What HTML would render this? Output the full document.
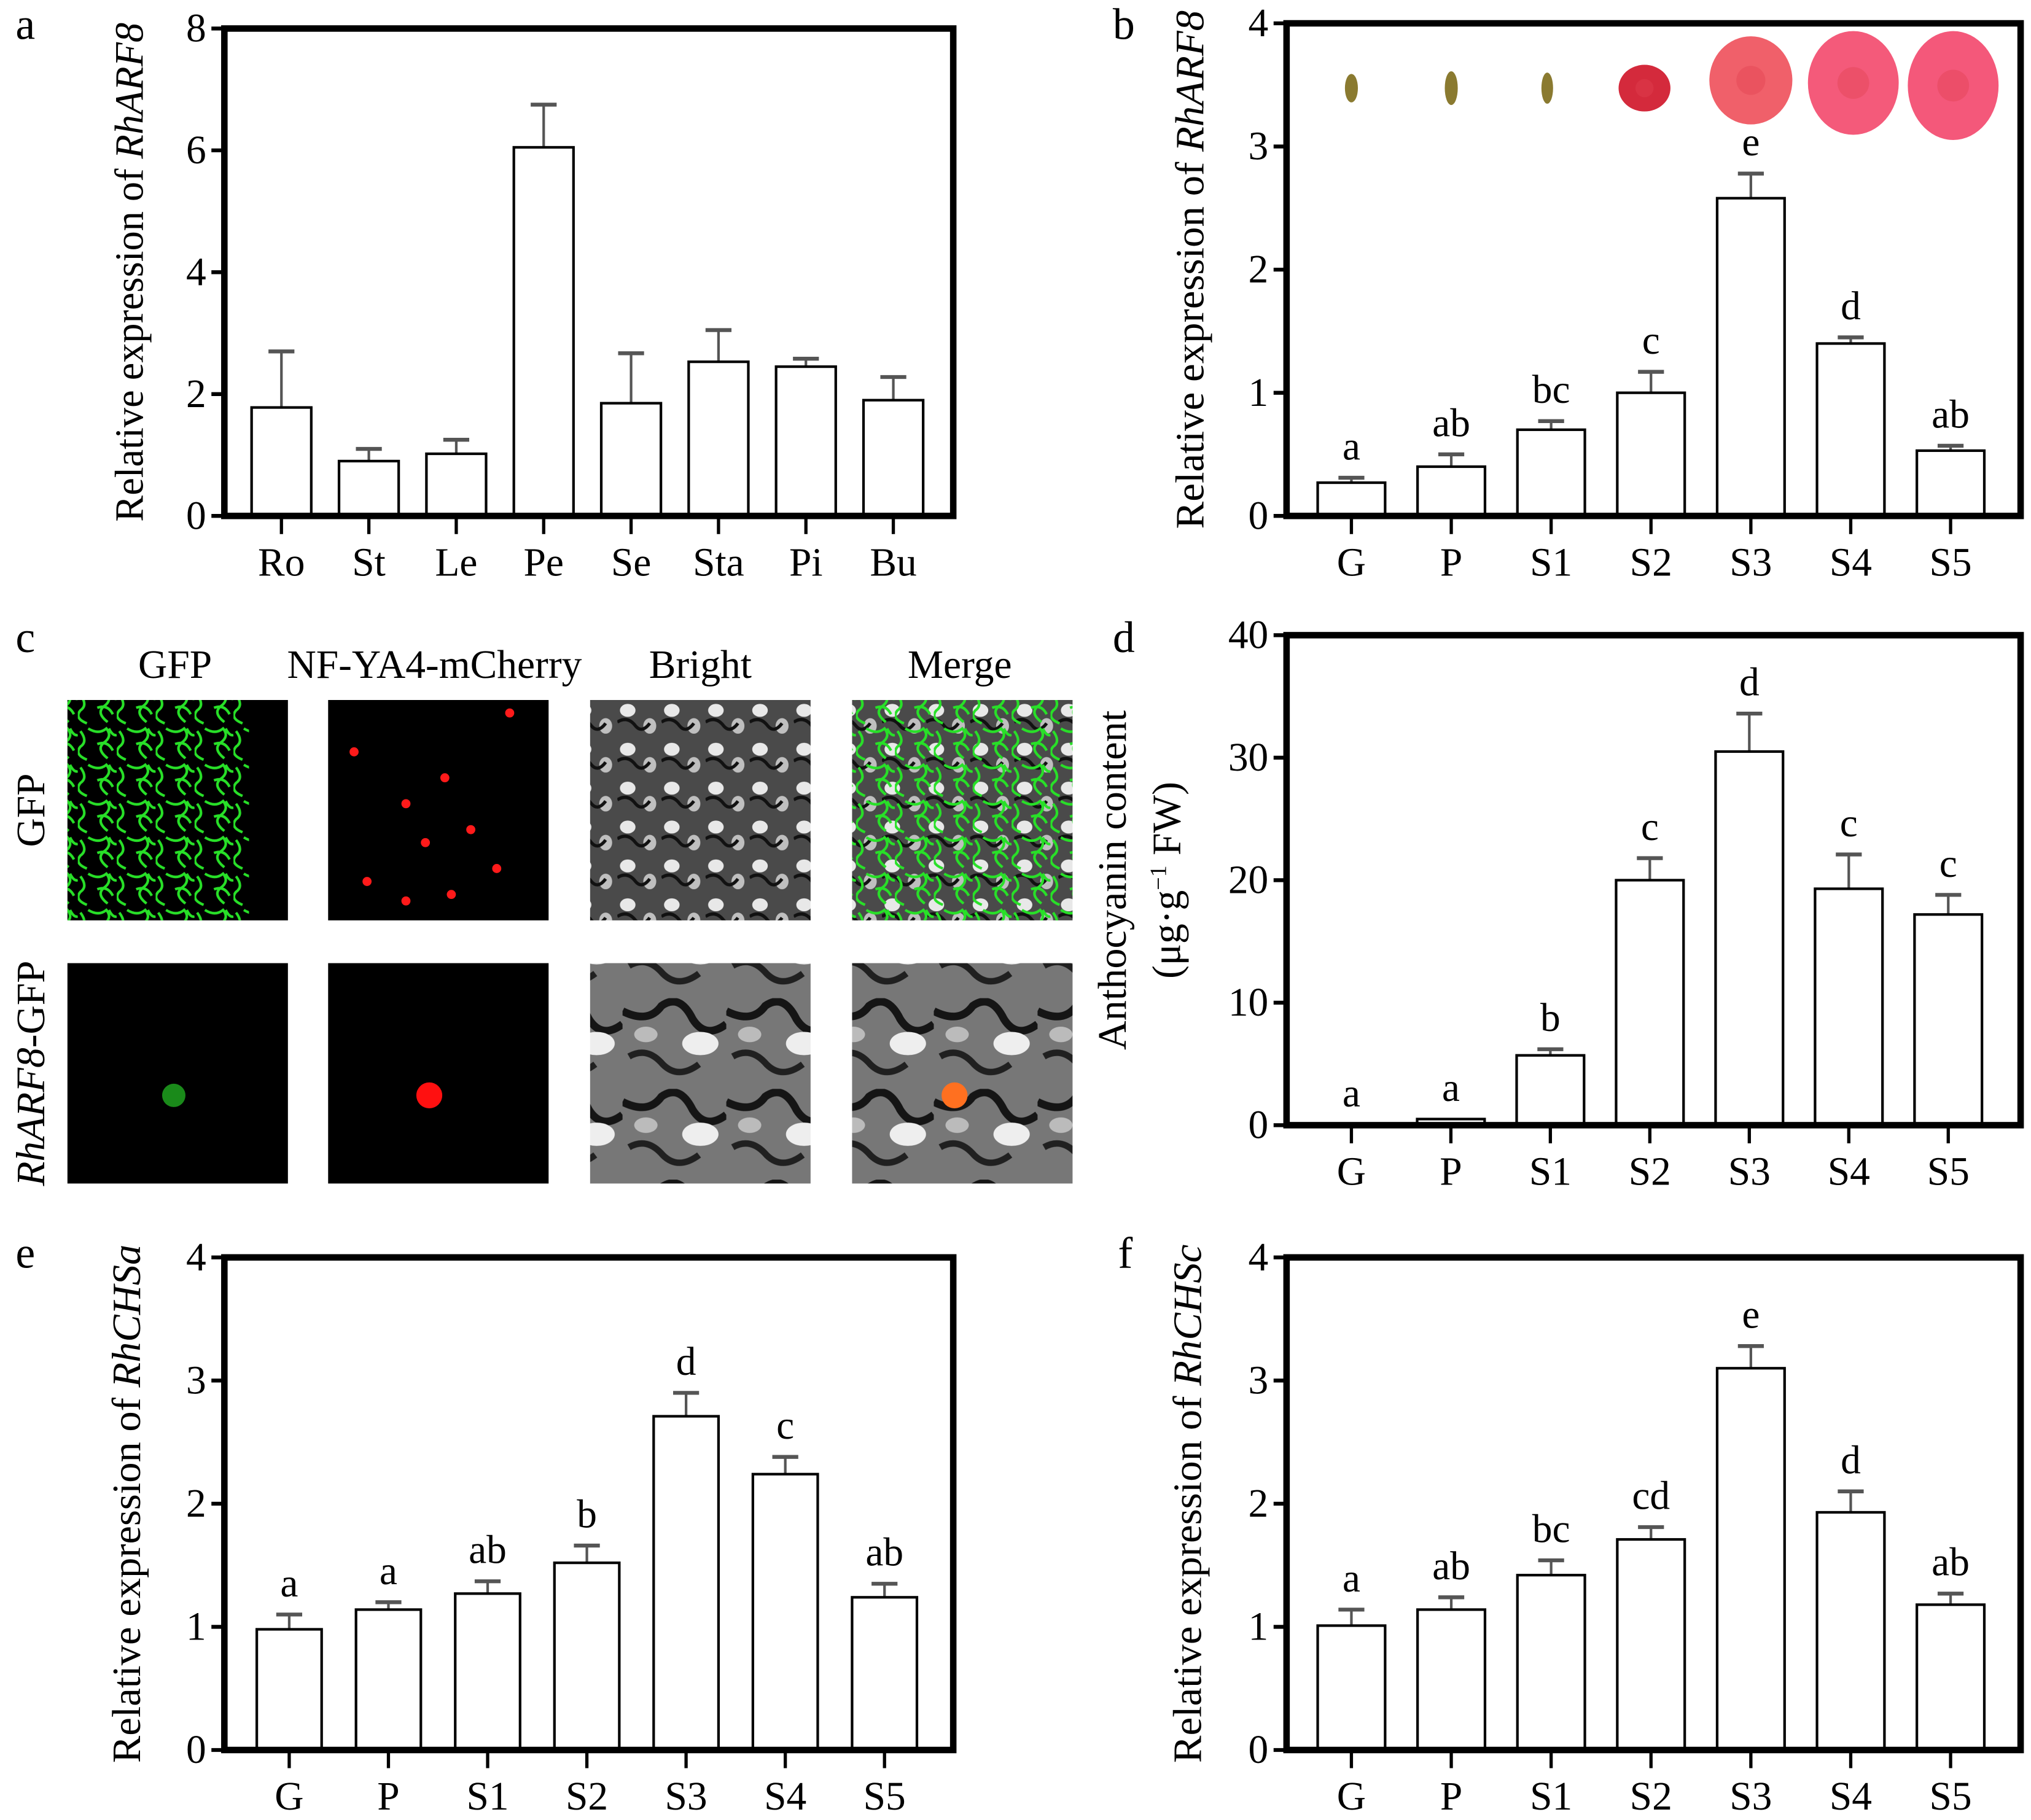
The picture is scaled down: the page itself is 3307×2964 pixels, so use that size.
<!DOCTYPE html>
<html><head><meta charset="utf-8"><style>
html,body{margin:0;padding:0;background:#fff}
svg{display:block}
text{font-family:"Liberation Serif",serif;fill:#000}
</style></head><body>
<svg id="fig" xmlns="http://www.w3.org/2000/svg" width="3307" height="2964" viewBox="0 0 1566 1404" preserveAspectRatio="none">
<defs>
<pattern id="gfpPat" width="30" height="28" patternUnits="userSpaceOnUse">
<path d="M2 4 q6 8 0 12 q-5 6 5 10 M8 2 q8 5 14 0 q5 6 -2 11 q-6 5 3 12 M15 14 q8 -3 12 5 M24 2 q3 6 6 5" fill="none" stroke="#28e028" stroke-width="2"/>
</pattern>
<pattern id="brightPat" width="34" height="30" patternUnits="userSpaceOnUse">
<rect width="34" height="30" fill="#4a4a4a"/>
<ellipse cx="8" cy="8" rx="6" ry="5" fill="#e8e8e8"/>
<ellipse cx="25" cy="20" rx="5" ry="6" fill="#bfbfbf"/>
<path d="M0 17 q8 -5 14 3 q5 6 11 -2" fill="none" stroke="#111" stroke-width="2.5"/>
</pattern>
<pattern id="brightPat2" width="80" height="70" patternUnits="userSpaceOnUse">
<rect width="80" height="70" fill="#777"/>
<path d="M0 10 q20 10 30 -4 q14 -10 24 10 q10 16 26 4" fill="none" stroke="#151515" stroke-width="6"/>
<path d="M5 45 q14 -8 26 6 q12 12 28 0" fill="none" stroke="#202020" stroke-width="5"/>
<ellipse cx="60" cy="35" rx="14" ry="9" fill="#eee"/>
<ellipse cx="18" cy="28" rx="9" ry="6" fill="#bbb"/>
</pattern>
</defs>
<g id="charts"></g>
<g id="micro"></g>
</svg>
<script>
// ---- data arrays ----
const catsA = ["Ro","St","Le","Pe","Se","Sta","Pi","Bu"];
const valsA = [1.78,0.9,1.02,6.05,1.85,2.53,2.45,1.9];
const errA  = [0.92,0.2,0.23,0.7,0.82,0.52,0.13,0.38];
const ticksA = ["0","2","4","6","8"];

const catsStage = ["G","P","S1","S2","S3","S4","S5"];
const valsB = [0.27,0.4,0.7,1.0,2.58,1.4,0.53];
const errB  = [0.04,0.1,0.07,0.17,0.2,0.05,0.04];
const letB  = ["a","ab","bc","c","e","d","ab"];
const ticksB = ["0","1","2","3","4"];

const valsD = [0.05,0.5,5.7,20,30.5,19.3,17.2];
const errD  = [0,0,0.5,1.8,3.1,2.8,1.6];
const letD  = ["a","a","b","c","d","c","c"];
const ticksD = ["0","10","20","30","40"];

const valsE = [0.98,1.14,1.27,1.52,2.71,2.24,1.24];
const errE  = [0.12,0.06,0.1,0.14,0.19,0.14,0.11];
const letE  = ["a","a","ab","b","d","c","ab"];

const valsF = [1.01,1.14,1.42,1.71,3.1,1.93,1.18];
const errF  = [0.13,0.1,0.12,0.1,0.18,0.17,0.09];
const letF  = ["a","ab","bc","cd","e","d","ab"];

const NS="http://www.w3.org/2000/svg";
function mk(tag,parent,attrs){const e=document.createElementNS(NS,tag);for(const k in attrs)e.setAttribute(k,attrs[k]);parent.appendChild(e);return e;}
const FS=31;

function panel(p){
  const g=mk('g',document.getElementById('charts'),{});
  
  
  const y=v=>p.bottom-(v-p.ymin)/(p.ymax-p.ymin)*(p.bottom-p.top);
  const x=i=>p.x0+i*p.step;
  p.vals.forEach((v,i)=>{
    const e=p.err[i], cx=x(i);
    if(e>0){
      const l=mk('line',g,{x1:cx,x2:cx,y1:y(v),y2:y(v+e),stroke:'#555','stroke-width':2});
      
      
      const c=mk('line',g,{x1:cx-10,x2:cx+10,y1:y(v+e),y2:y(v+e),stroke:'#555','stroke-width':3});
      
      
    }
    const r=mk('rect',g,{x:cx-p.bw/2,y:y(v),width:p.bw,height:p.bottom-y(v),fill:'#fff',stroke:'#000','stroke-width':2});
    
    
    const t=mk('line',g,{x1:cx,x2:cx,y1:p.bottom,y2:p.bottom+14,stroke:'#000','stroke-width':2.5});
    
    
    const lb=mk('text',g,{x:cx,y:p.bottom+46,'text-anchor':'middle','font-size':FS});
    lb.textContent=p.cats[i];
    
    
    if(p.lets){
      const s=mk('text',g,{x:cx,y:y(v+e)-14,'text-anchor':'middle','font-size':FS});
      s.textContent=p.lets[i];
      
      
    }
  });
  const f=mk('rect',g,{x:p.left,y:p.top,width:p.right-p.left,height:p.bottom-p.top,fill:'none',stroke:'#000','stroke-width':5});
  
  
  p.ticks.forEach(tk=>{
    const v=parseFloat(tk);
    const l=mk('line',g,{x1:p.left-10,x2:p.left,y1:y(v),y2:y(v),stroke:'#000','stroke-width':3});
    
    
    const t=mk('text',g,{x:p.left-14,y:y(v)+10,'text-anchor':'end','font-size':FS});
    t.textContent=tk;
    
    
  });
  const cy=(p.top+p.bottom)/2;
  if(p.title2){
    const t1=mk('text',g,{x:p.tx-20,y:cy,'text-anchor':'middle','font-size':FS,textLength:262,lengthAdjust:'spacingAndGlyphs',transform:`rotate(-90 ${p.tx-20} ${cy})`});
    t1.textContent=p.title;
    
    
    const t2=mk('text',g,{x:p.tx+22,y:cy,'text-anchor':'middle','font-size':FS,transform:`rotate(-90 ${p.tx+22} ${cy})`});
    t2.innerHTML='(μg·g<tspan dy="-11" font-size="18">−1</tspan><tspan dy="11"> FW)</tspan>';
    
    
  } else {
    const t=mk('text',g,{x:p.tx,y:cy,'text-anchor':'middle','font-size':FS,textLength:p.tl,lengthAdjust:'spacingAndGlyphs',transform:`rotate(-90 ${p.tx} ${cy})`});
    t.innerHTML=p.title+' <tspan font-style="italic">'+p.gene+'</tspan>';
    
    
  }
  const L=mk('text',document.getElementById('charts'),{x:p.lx,y:p.ly,'font-size':34});
  L.textContent=p.letter;
  
  
}

panel({id:'panel-a-chart',letter:'a',lx:12,ly:30,cats:catsA,vals:valsA,err:errA,ticks:ticksA,ymin:0,ymax:8,left:173,right:735,top:22,bottom:398,x0:217,step:67.4,bw:46,tx:110,tl:385,title:'Relative expression of',gene:'RhARF8'});
panel({id:'panel-b-chart',letter:'b',lx:858,ly:30,cats:catsStage,vals:valsB,err:errB,lets:letB,ticks:ticksB,ymin:0,ymax:4,left:992,right:1558,top:18,bottom:398,x0:1042,step:77,bw:52,tx:928,tl:400,title:'Relative expression of',gene:'RhARF8'});
panel({id:'panel-d-chart',letter:'d',lx:858,ly:503,cats:catsStage,vals:valsD,err:errD,lets:letD,ticks:ticksD,ymin:0,ymax:40,left:992,right:1558,top:490,bottom:868,x0:1042,step:76.7,bw:52,tx:888,title:'Anthocyanin content',title2:true});
panel({id:'panel-e-chart',letter:'e',lx:12,ly:978,cats:catsStage,vals:valsE,err:errE,lets:letE,ticks:ticksB,ymin:0,ymax:4,left:173,right:735,top:970,bottom:1350,x0:223,step:76.5,bw:50,tx:108,tl:400,title:'Relative expression of',gene:'RhCHSa'});
panel({id:'panel-f-chart',letter:'f',lx:862,ly:978,cats:catsStage,vals:valsF,err:errF,lets:letF,ticks:ticksB,ymin:0,ymax:4,left:992,right:1558,top:970,bottom:1350,x0:1042,step:77,bw:52,tx:926,tl:400,title:'Relative expression of',gene:'RhCHSc'});

const fl=document.getElementById('charts');
const flowers=[[1042,68,'bud',10,22],[1119,68,'bud',10,26],[1193,68,'bud',9,24],[1268,68,'rose',20,18],[1350,62,'rose',32,34],[1429,64,'rose',35,40],[1506,66,'rose',35,42]];
const colors=['','','','#d42a3c','#f0606a','#f45a7a','#f4587a'];
flowers.forEach((f,i)=>{
  let e;
  if(f[2]==='bud'){ e=mk('ellipse',fl,{cx:f[0],cy:f[1],rx:f[3]/2,ry:f[4]/2,fill:'#8a7a30'}); }
  else { e=mk('ellipse',fl,{cx:f[0],cy:f[1],rx:f[3],ry:f[4],fill:colors[i]});
    mk('circle',fl,{cx:f[0],cy:f[1],r:f[3]*0.35,fill:'#e04050',opacity:0.4}); }
  
  
});

const mg=document.getElementById('micro');
function tx(x,y,s,attrs){const t=mk('text',mg,Object.assign({x:x,y:y,'font-size':FS},attrs||{}));t.innerHTML=s;return t;}
let t;
t=tx(12,503,'c',{'font-size':34});


const heads=[['GFP',135],['NF-YA4-mCherry',335],['Bright',540],['Merge',740]];
heads.forEach(h=>{t=tx(h[1],523,h[0],{'text-anchor':'middle'});

});
t=tx(34,625,'GFP',{'text-anchor':'middle',transform:'rotate(-90 34 625)'});


t=tx(34,828,'<tspan font-style="italic">RhARF8</tspan>-GFP',{'text-anchor':'middle',transform:'rotate(-90 34 828)'});


const cols=[52,253,455,657], rows=[540,743], W=170, H=170;
rows.forEach((ry,ri)=>cols.forEach((cx,ci)=>{
  let fill='#000';
  if(ci>=2) fill=ri===0?'url(#brightPat)':'url(#brightPat2)';
  const r=mk('rect',mg,{x:cx,y:ry,width:W,height:H,fill:fill});
  
  
  if(ri===0&&(ci===0||ci===3)) mk('rect',mg,{x:cx,y:ry,width:ci===0?W-30:W,height:H,fill:'url(#gfpPat)'});
  if(ri===0&&ci===1){[[20,40],[60,80],[90,60],[110,100],[75,110],[30,140],[140,10],[95,150],[60,155],[130,130]].forEach(d=>mk('circle',mg,{cx:cx+d[0],cy:ry+d[1],r:3.5,fill:'#ff1a1a'}));}
  if(ri===1&&ci===0) mk('circle',mg,{cx:cx+82,cy:ry+102,r:9,fill:'#1a8a1a'});
  if(ri===1&&ci===1) mk('circle',mg,{cx:cx+78,cy:ry+102,r:10,fill:'#ff1010'});
  if(ri===1&&ci===3) mk('circle',mg,{cx:cx+79,cy:ry+102,r:10,fill:'#ff7020'});
}));
</script>
</body></html>
